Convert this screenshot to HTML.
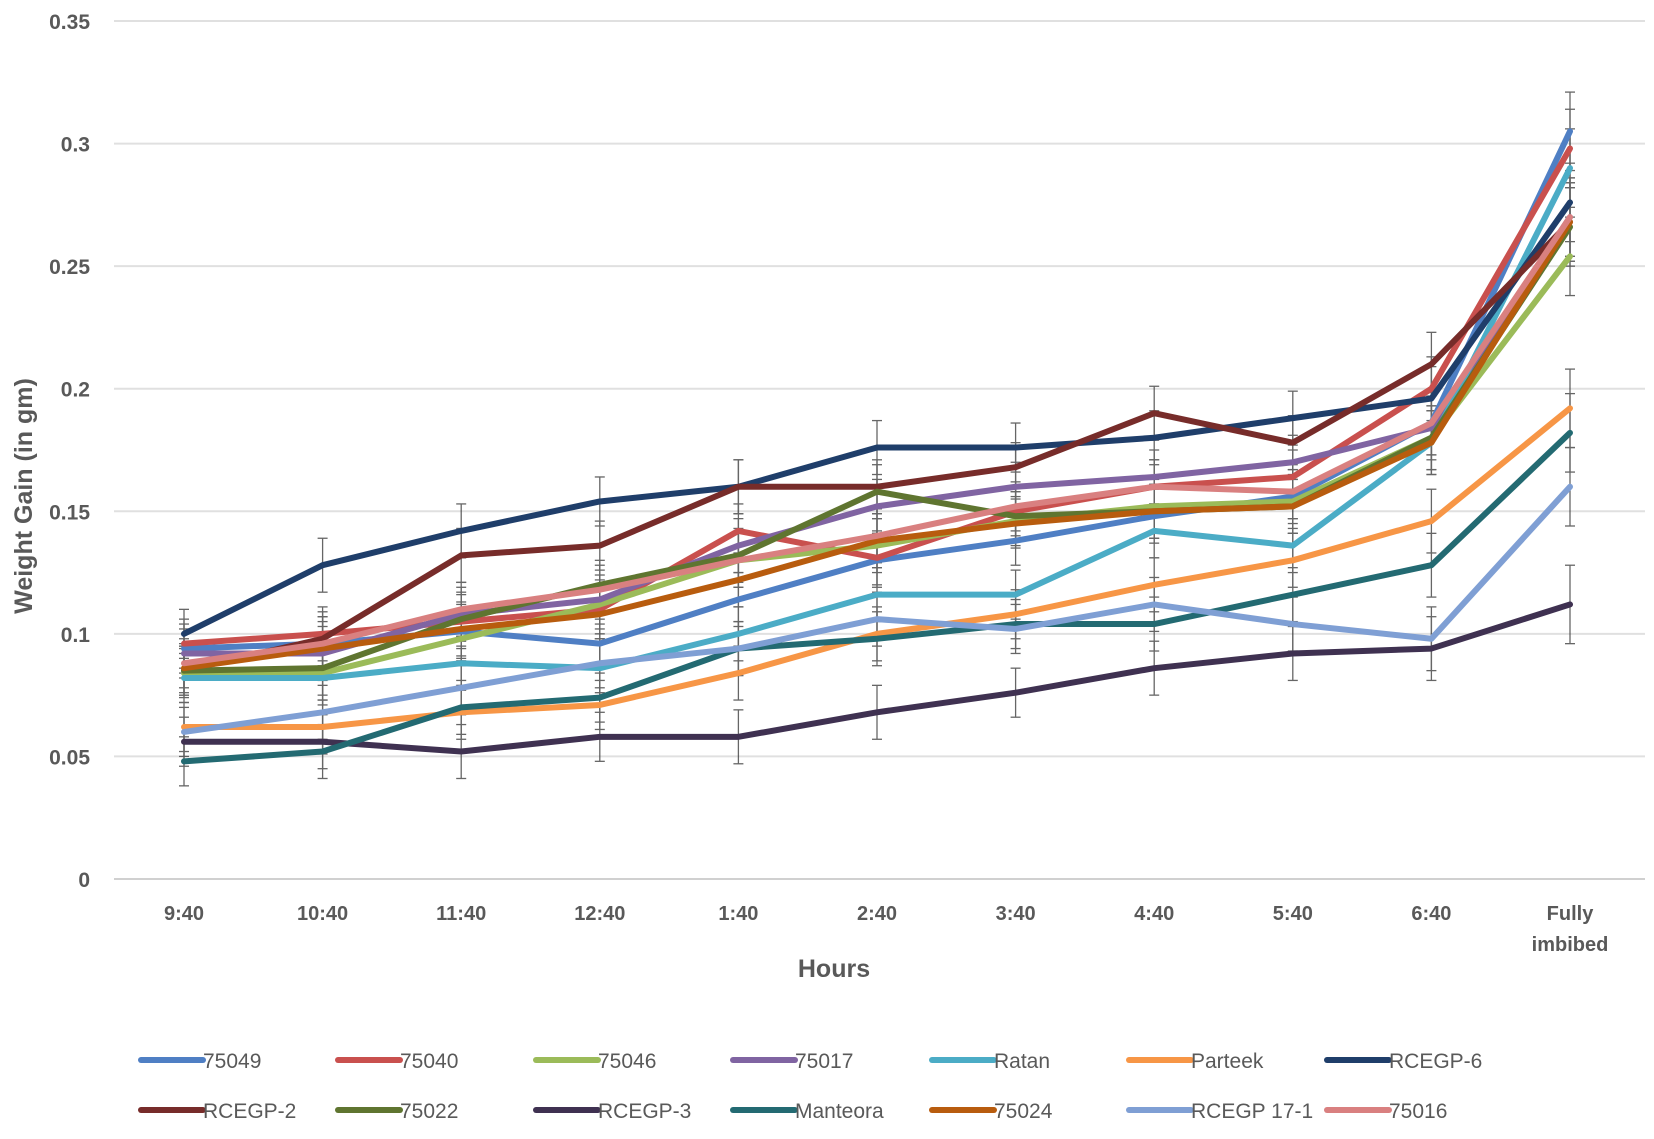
<!DOCTYPE html>
<html><head><meta charset="utf-8"><style>
body{margin:0;background:#fff;}
svg{display:block;font-family:"Liberation Sans",sans-serif;}
</style></head><body>
<svg id="chart" width="1654" height="1139"></svg>
<script>
const categories=["9:40","10:40","11:40","12:40","1:40","2:40","3:40","4:40","5:40","6:40","Fully imbibed"];
const yTicks=[0,0.05,0.1,0.15,0.2,0.25,0.3,0.35];
const yTickLabels=["0","0.05","0.1","0.15","0.2","0.25","0.3","0.35"];
const seriesNames=["75049","75040","75046","75017","Ratan","Parteek","RCEGP-6","RCEGP-2","75022","RCEGP-3","Manteora","75024","RCEGP 17-1","75016"];
const s75049=[0.094,0.096,0.101,0.096,0.114,0.130,0.138,0.148,0.156,0.186,0.305];
const s75040=[0.096,0.100,0.105,0.110,0.142,0.131,0.150,0.160,0.164,0.200,0.298];
const s75046=[0.084,0.084,0.098,0.112,0.130,0.136,0.146,0.152,0.154,0.180,0.254];
const s75017=[0.092,0.092,0.108,0.114,0.136,0.152,0.160,0.164,0.170,0.184,0.270];
const sRatan=[0.082,0.082,0.088,0.086,0.100,0.116,0.116,0.142,0.136,0.178,0.290];
const sParteek=[0.062,0.062,0.068,0.071,0.084,0.100,0.108,0.120,0.130,0.146,0.192];
const sRCEGP6=[0.100,0.128,0.142,0.154,0.160,0.176,0.176,0.180,0.188,0.196,0.276];
const sRCEGP2=[0.085,0.098,0.132,0.136,0.160,0.160,0.168,0.190,0.178,0.210,0.268];
const s75022=[0.085,0.086,0.106,0.120,0.132,0.158,0.148,0.150,0.152,0.180,0.266];
const sRCEGP3=[0.056,0.056,0.052,0.058,0.058,0.068,0.076,0.086,0.092,0.094,0.112];
const sManteora=[0.048,0.052,0.070,0.074,0.094,0.098,0.104,0.104,0.116,0.128,0.182];
const s75024=[0.086,0.094,0.102,0.108,0.122,0.138,0.145,0.150,0.152,0.178,0.268];
const sRCEGP171=[0.060,0.068,0.078,0.088,0.094,0.106,0.102,0.112,0.104,0.098,0.160];
const s75016=[0.088,0.096,0.110,0.118,0.130,0.140,0.152,0.160,0.158,0.186,0.270];
const errorSize=[0.010,0.011,0.011,0.010,0.011,0.011,0.010,0.011,0.011,0.013,0.016];
const seriesValues=[s75049,s75040,s75046,s75017,sRatan,sParteek,sRCEGP6,sRCEGP2,s75022,sRCEGP3,sManteora,s75024,sRCEGP171,s75016];
const colors=["#4F7FC4","#C9504E","#9BBB59","#8064A2","#4BACC6","#F79646","#1F3E6A","#772C2A","#5F7530","#3F3151","#236A72","#B85C0E","#7F9FD4","#D98080"];

const NS="http://www.w3.org/2000/svg";
const svg=document.getElementById("chart");
const X0=184,DX=138.6,Y0=879,YS=(879-21)/0.35;
const xs=i=>X0+i*DX, ys=v=>Y0-v*YS;
function mk(t,a,p){const e=document.createElementNS(NS,t);for(const k in a)e.setAttribute(k,a[k]);(p||svg).appendChild(e);return e;}

const grid=mk("g",{});


yTicks.forEach((t,i)=>{
  mk("line",{x1:114,x2:1645,y1:ys(t),y2:ys(t),stroke:i==0?"#d0d0d0":"#e0e0e0","stroke-width":2},grid);
  const tx=mk("text",{x:90,y:ys(t)+8,"text-anchor":"end","font-size":21,"font-weight":"bold",fill:"#595959"});
  tx.textContent=yTickLabels[i];
  
  
});
categories.forEach((c,i)=>{
  const parts=c==="Fully imbibed"?["Fully","imbibed"]:[c];
  const tx=mk("text",{x:xs(i),y:920,"text-anchor":"middle","font-size":20,"font-weight":"bold",fill:"#595959"});
  parts.forEach((p,j)=>{const ts=mk("tspan",{x:xs(i),dy:j?31:0},tx);ts.textContent=p;});
  
  
});
const xt=mk("text",{x:834,y:977,"text-anchor":"middle","font-size":25,"font-weight":"bold",fill:"#595959"});
xt.textContent="Hours";


const yt=mk("text",{x:0,y:0,"text-anchor":"middle","font-size":25,"font-weight":"bold",fill:"#595959",transform:"translate(32,496) rotate(-90)"});
yt.textContent="Weight Gain (in gm)";



const eb=mk("g",{stroke:"#333","stroke-width":1.3,opacity:0.75});


seriesValues.forEach(vals=>vals.forEach((v,i)=>{
  const x=xs(i),a=ys(v+errorSize[i]),b=ys(v-errorSize[i]);
  mk("line",{x1:x,x2:x,y1:a,y2:b},eb);
  mk("line",{x1:x-5,x2:x+5,y1:a,y2:a},eb);
  mk("line",{x1:x-5,x2:x+5,y1:b,y2:b},eb);
}));

seriesValues.forEach((vals,k)=>{
  const p=mk("polyline",{points:vals.map((v,i)=>xs(i)+","+ys(v)).join(" "),fill:"none",stroke:colors[k],"stroke-width":6,"stroke-linejoin":"round","stroke-linecap":"round"});
  
  
});

const legX=[141,338,536,733,932,1129,1327];
const legY=[1060,1110];
seriesNames.forEach((n,k)=>{
  const g=mk("g",{});
  
  
  const x=legX[k%7],y=legY[Math.floor(k/7)];
  mk("line",{x1:x,x2:x+62,y1:y,y2:y,stroke:colors[k],"stroke-width":6,"stroke-linecap":"round"},g);
  const t=mk("text",{x:x+62,y:y+8,"font-size":21,fill:"#595959"},g);
  t.textContent=n;
});
</script>
</body></html>
